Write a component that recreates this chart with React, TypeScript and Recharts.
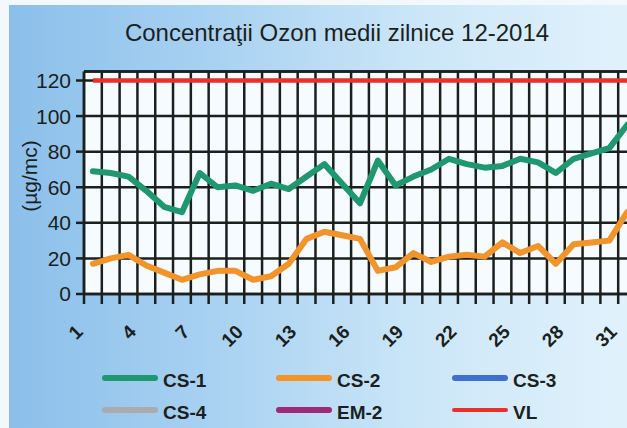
import { LineChart, Line, XAxis, YAxis, CartesianGrid, ReferenceLine } from "recharts";

const DAYS = [1, 2, 3, 4, 5, 6, 7, 8, 9, 10, 11, 12, 13, 14, 15, 16, 17, 18, 19, 20, 21, 22, 23, 24, 25, 26, 27, 28, 29, 30, 31];
const CS1 = [69, 68, 66, 58, 49, 46, 68, 60, 61, 58, 62, 59, 66, 73, 62, 51, 75, 61, 66, 70, 76, 73, 71, 72, 76, 74, 68, 76, 79, 82, 95];
const CS2 = [17, 20, 22, 16, 12, 8, 11, 13, 13, 8, 10, 17, 31, 35, 33, 31, 13, 15, 23, 18, 21, 22, 21, 29, 23, 27, 17, 28, 29, 30, 46];
const VL = [120, 120, 120, 120, 120, 120, 120, 120, 120, 120, 120, 120, 120, 120, 120, 120, 120, 120, 120, 120, 120, 120, 120, 120, 120, 120, 120, 120, 120, 120, 120];

const DAY_LABELS = [1, 4, 7, 10, 13, 16, 19, 22, 25, 28, 31];
const Y_TICKS = [0, 20, 40, 60, 80, 100, 120];
const Y_MAX = 125;

const LEGEND = [
  { name: "CS-1", color: "#1f9870", width: 6 },
  { name: "CS-2", color: "#f29429", width: 6 },
  { name: "CS-3", color: "#3f6fd1", width: 6 },
  { name: "CS-4", color: "#a9abad", width: 6 },
  { name: "EM-2", color: "#9c2a78", width: 6 },
  { name: "VL", color: "#e8312c", width: 4 },
];

const data = DAYS.map((day, i) => ({ day, cs1: CS1[i], cs2: CS2[i], vl: VL[i] }));
// category boundaries, gridlines sit between days
const gridTicks = [...DAYS.map((d) => d - 0.5), DAYS[DAYS.length - 1] + 0.5];
const domain: [number, number] = [gridTicks[0], gridTicks[gridTicks.length - 1]];

const FONT = "'Liberation Sans', Arial, sans-serif";
const INK = "#1b1f1d";

function DayTick(props: any) {
  const { x, y, payload } = props;
  const ax = x - 9;
  const ay = y + 27;
  return (
    <text
      x={ax}
      y={ay}
      transform={`rotate(-45 ${ax} ${ay})`}
      textAnchor="end"
      fontFamily={FONT}
      fontWeight="bold"
      fontSize={19}
      fill={INK}
    >
      {payload.value}
    </text>
  );
}

export default function App() {
  return (
    <div style={{ position: "absolute", left: 0, top: 0, width: 627, height: 428, overflow: "hidden", background: "#f3f8fc" }}>
      <div
        style={{
          position: "absolute",
          left: 9,
          top: 5,
          width: 700,
          height: 440,
          background: "linear-gradient(to right, #8bbfea 0%, #a9d2f2 30%, #cde7f8 60%, #e9f6fd 100%)",
        }}
      />
      <svg width={627} height={428} style={{ position: "absolute", left: 0, top: 0 }}>
        <text x={337} y={41} textAnchor="middle" fontFamily={FONT} fontSize={24} fill={INK}>
          Concentraţii Ozon medii zilnice 12-2014
        </text>
        <text
          x={37}
          y={176}
          transform="rotate(-90 37 176)"
          textAnchor="middle"
          fontFamily={FONT}
          fontSize={21}
          fill={INK}
        >
          (µg/mc)
        </text>
      </svg>
      <div style={{ position: "absolute", left: 0, top: 0 }}>
        <LineChart width={660} height={428} data={data} margin={{ top: 71.6, right: 24, left: 0, bottom: 84 }}>
          <CartesianGrid vertical={false} xAxisId="grid" stroke={INK} strokeWidth={2.5} fill="#f5fbfe" fillOpacity={1} />
          <XAxis
            xAxisId="grid"
            dataKey="day"
            type="number"
            domain={domain}
            ticks={gridTicks}
            height={10}
            tickSize={10}
            tickFormatter={() => ""}
            axisLine={{ stroke: INK, strokeWidth: 2.5 }}
            tickLine={{ stroke: INK, strokeWidth: 2.5 }}
            interval={0}
          />
          <XAxis
            xAxisId="label"
            dataKey="day"
            type="number"
            domain={domain}
            ticks={DAY_LABELS}
            height={40}
            tickSize={0}
            axisLine={false}
            tickLine={false}
            tick={<DayTick />}
            interval={0}
          />
          <YAxis
            type="number"
            domain={[0, Y_MAX]}
            ticks={Y_TICKS}
            width={84}
            tickSize={8}
            tickMargin={5}
            axisLine={{ stroke: INK, strokeWidth: 2.5 }}
            tickLine={{ stroke: INK, strokeWidth: 2.5 }}
            tick={{ fontFamily: FONT, fontSize: 21, fill: INK }}
            interval={0}
          />
          {gridTicks.map((t) => (
            <ReferenceLine key={t} xAxisId="grid" x={t} stroke={INK} strokeWidth={2.5} />
          ))}
          <ReferenceLine xAxisId="grid" y={Y_MAX} stroke={INK} strokeWidth={2.5} />
          <Line xAxisId="grid" dataKey="vl" stroke="#e8312c" strokeWidth={4.5} dot={false} isAnimationActive={false} />
          <Line
            xAxisId="grid"
            dataKey="cs1"
            type="linear"
            stroke="#1f9870"
            strokeWidth={6}
            strokeLinejoin="round"
            strokeLinecap="round"
            dot={false}
            isAnimationActive={false}
          />
          <Line
            xAxisId="grid"
            dataKey="cs2"
            type="linear"
            stroke="#f29429"
            strokeWidth={6}
            strokeLinejoin="round"
            strokeLinecap="round"
            dot={false}
            isAnimationActive={false}
          />
        </LineChart>
      </div>
      <div
        style={{
          position: "absolute",
          left: 102,
          top: 364,
          display: "grid",
          gridTemplateColumns: "174px 176px 120px",
          rowGap: 4,
          fontFamily: FONT,
          fontWeight: "bold",
          fontSize: 19,
          color: INK,
        }}
      >
        {LEGEND.map((item) => (
          <div key={item.name} style={{ display: "flex", alignItems: "center", height: 28 }}>
            <span
              style={{
                display: "inline-block",
                width: 56,
                height: item.width,
                borderRadius: item.width / 2,
                background: item.color,
                marginRight: 5,
              }}
            />
            <span style={{ marginTop: 6 }}>{item.name}</span>
          </div>
        ))}
      </div>
    </div>
  );
}
